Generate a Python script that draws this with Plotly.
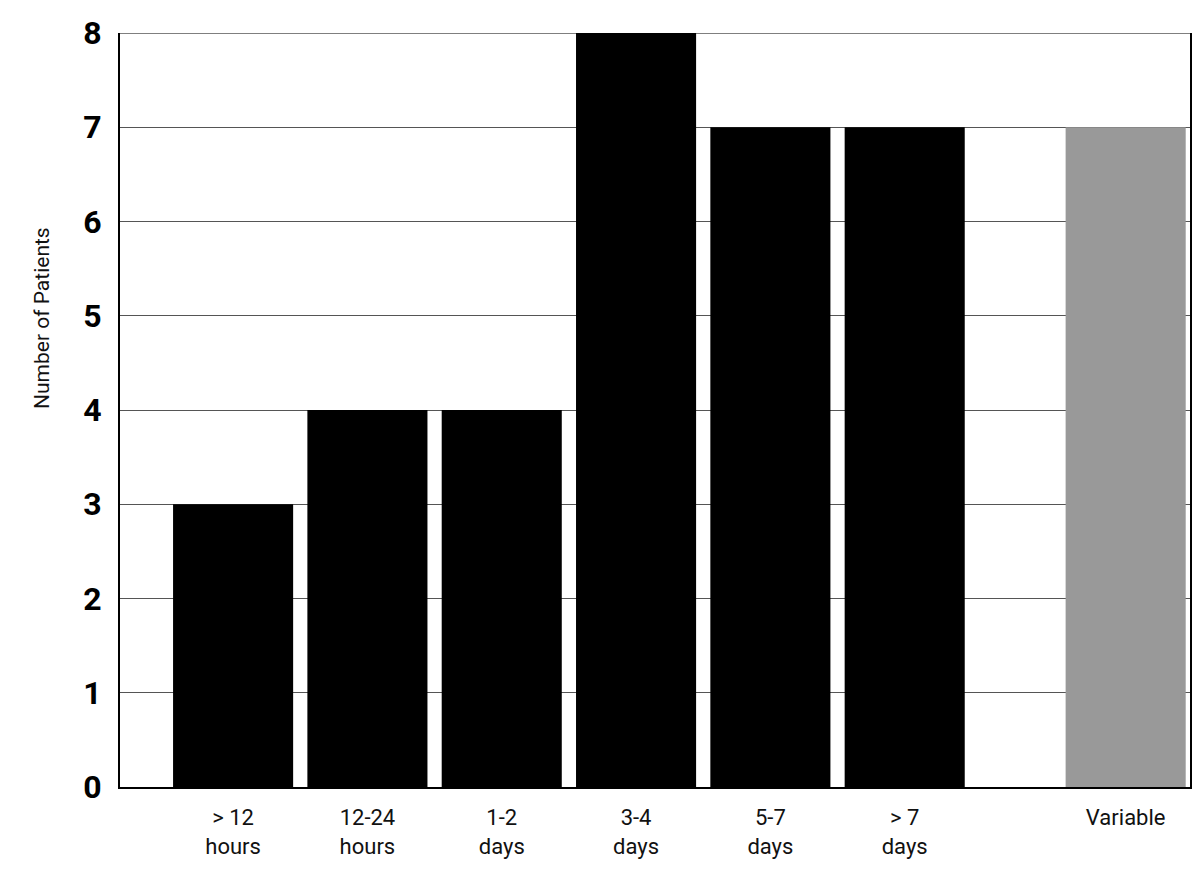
import plotly.graph_objects as go

categories = ["> 12<br>hours", "12-24<br>hours", "1-2<br>days", "3-4<br>days", "5-7<br>days", "> 7<br>days", "Variable"]
positions = [0, 1, 2, 3, 4, 5, 6.645]
patients = [3, 4, 4, 8, 7, 7, 7]
colors = ["#000000"] * 6 + ["#999999"]
y_ticks = [0, 1, 2, 3, 4, 5, 6, 7, 8]

FONT = "Liberation Sans Narrow, Roboto, Arial, sans-serif"

fig = go.Figure()
fig.add_trace(go.Bar(x=positions, y=patients, width=0.894,
                     marker=dict(color=colors, line=dict(width=0)),
                     showlegend=False))

# page body has an 8px margin, so the figure is sized/offset to compensate
fig.update_layout(
    width=1184, height=860,
    margin=dict(l=112, r=2, t=25, b=81, autoexpand=False),
    paper_bgcolor="white", plot_bgcolor="white",
    font=dict(family=FONT, color="#111111"),
    xaxis=dict(range=[-0.842, 7.124], tickvals=positions, ticktext=categories,
               showgrid=False, zeroline=False, showline=True, linecolor="#000000",
               linewidth=2, ticks="", tickfont=dict(size=22, family=FONT, color="#111111"),
               ticklabelstandoff=10, automargin=False),
    yaxis=dict(range=[0, 8], tickvals=y_ticks, showgrid=True, gridcolor="#555555",
               gridwidth=1, zeroline=False, showline=True, linecolor="#000000",
               linewidth=2, mirror=True, ticks="",
               tickfont=dict(size=32, family=FONT, color="#000000", weight="bold"),
               ticklabelstandoff=10, automargin=False),
    shapes=[dict(type="line", xref="paper", yref="y", x0=0, x1=1, y0=8, y1=8,
                 line=dict(color="#555555", width=1.5), layer="below")],
    annotations=[dict(text="Number of Patients", x=(42 - 120) / 1070, y=(787 - 318) / 754,
                      xref="paper", yref="paper", xanchor="center", yanchor="middle",
                      showarrow=False, textangle=-90,
                      font=dict(size=21, family=FONT, color="#111111"))],
)
fig.write_html("out.html")
